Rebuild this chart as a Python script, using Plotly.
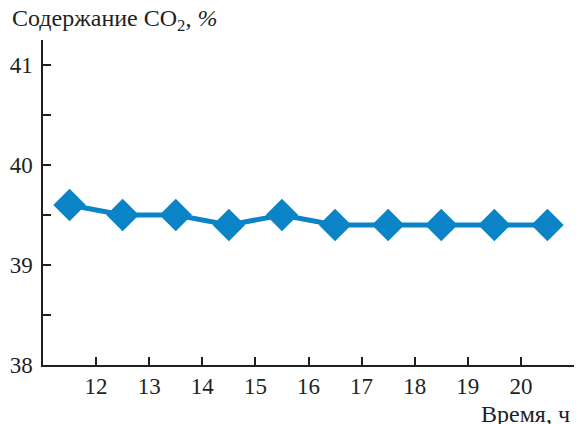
import plotly.graph_objects as go

# Hourly CO2 content readings
hours = [11.5, 12.5, 13.5, 14.5, 15.5, 16.5, 17.5, 18.5, 19.5, 20.5]
co2 = [39.6, 39.5, 39.5, 39.4, 39.5, 39.4, 39.4, 39.4, 39.4, 39.4]

x_ticks = [12, 13, 14, 15, 16, 17, 18, 19, 20, 21]
x_labels = ["12", "13", "14", "15", "16", "17", "18", "19", "20", ""]
y_ticks = [38, 38.5, 39, 39.5, 40, 40.5, 41]
y_labels = ["38", "", "39", "", "40", "", "41"]

color = "#0a84c6"
ink = "#231f20"
tick_font = dict(family="serif", size=23, color=ink)
title_font = dict(family="serif", size=24, color=ink)

fig = go.Figure(go.Scatter(
    x=hours, y=co2, mode="lines+markers",
    line=dict(color=color, width=5),
    marker=dict(symbol="diamond", size=25, color=color),
    cliponaxis=False,
))

fig.update_layout(
    width=578, height=424,
    margin=dict(l=43, r=4, t=40, b=59),
    plot_bgcolor="white", paper_bgcolor="white",
    showlegend=False,
)
fig.update_xaxes(
    range=[11, 21], tickvals=x_ticks, ticktext=x_labels,
    ticks="inside", ticklen=8, tickwidth=1.5, tickcolor=ink,
    showline=True, linecolor=ink, linewidth=1.5,
    showgrid=False, zeroline=False, tickfont=tick_font,
)
fig.update_yaxes(
    range=[38, 41.25], tickvals=y_ticks, ticktext=y_labels,
    ticks="inside", ticklen=8, tickwidth=1.5, tickcolor=ink,
    showline=True, linecolor=ink, linewidth=1.5,
    showgrid=False, zeroline=False, ticklabelstandoff=4, tickfont=tick_font,
)
fig.add_annotation(
    text="Содержание CO<sub>2</sub>, <i>%</i>", xref="paper", yref="paper",
    x=-43 / 531, y=1 + 40 / 325, xanchor="left", yanchor="top",
    showarrow=False, yshift=-3, xshift=10, font=title_font,
)
fig.add_annotation(
    text="Время, ч", xref="paper", yref="paper",
    x=1, y=0, xanchor="right", yanchor="top",
    showarrow=False, yshift=-34, xshift=-2, font=title_font,
)

fig.write_html("out.html")
